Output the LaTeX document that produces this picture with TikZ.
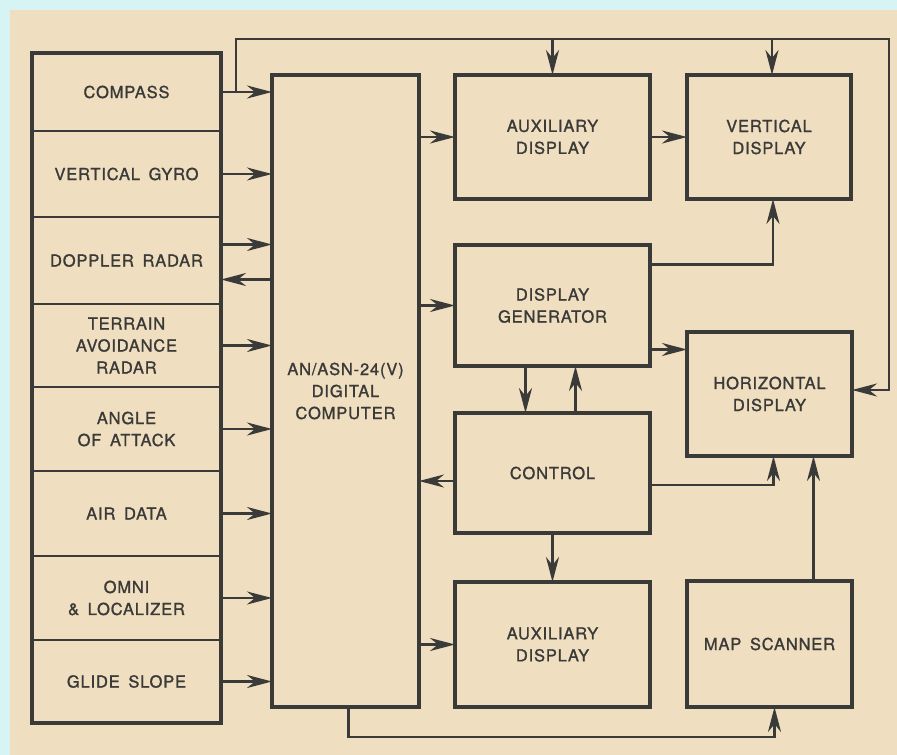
\documentclass[tikz,border=0pt]{standalone}
\usepackage{fontspec}
\setmainfont{TeX Gyre Heros}[LetterSpace=5,WordSpace=1.6,FakeBold=1.2]
\usepackage{tikz}
\usetikzlibrary{arrows.meta,positioning,calc}

\definecolor{ink}{RGB}{58,58,56}
\definecolor{paper}{RGB}{240,222,192}
\definecolor{rim}{RGB}{214,244,244}

\begin{document}
\begin{tikzpicture}[x=1pt,y=-1pt,
	block/.style={draw=ink,line width=4pt,inner sep=0pt,outer sep=0pt,align=center,text=ink,
		font=\fontsize{16.5}{22}\selectfont},
	row/.style={draw=ink,line width=2.6pt,inner sep=0pt,outer sep=0pt,align=center,text=ink,
		minimum width=189pt,font=\fontsize{16.5}{22}\selectfont},
	wire/.style={draw=ink,line width=2.6pt},
	link/.style={wire,-{Stealth[length=25pt,width=13pt,inset=8pt]}}]
		\useasboundingbox (0,0) rectangle (897,755);
		\fill[rim] (0,0) rectangle (897,755);
		\fill[paper] (10,10) rectangle (897,755);

		% sensors
		\node[row,minimum height=78pt] (compass) at (126.5,92) {COMPASS};
		\node[row,minimum height=86pt] (gyro) [below=0pt of compass] {VERTICAL GYRO};
		\node[row,minimum height=87pt] (doppler) [below=0pt of gyro] {DOPPLER RADAR};
		\node[row,minimum height=83pt] (terrain) [below=0pt of doppler] {TERRAIN\\AVOIDANCE\\RADAR};
		\node[row,minimum height=84pt] (angle) [below=0pt of terrain] {ANGLE\\OF ATTACK};
		\node[row,minimum height=85pt] (air) [below=0pt of angle] {AIR DATA};
		\node[row,minimum height=84pt] (omni) [below=0pt of air] {OMNI\\\& LOCALIZER};
		\node[row,minimum height=83pt] (glide) [below=0pt of omni] {GLIDE SLOPE};
		\draw[draw=ink,line width=4pt] (compass.north west) rectangle (glide.south east);

		% computer and displays
		\node[block,minimum width=147pt,minimum height=632pt] (comp) at (345.5,391) {AN/ASN-24(V)\\DIGITAL\\COMPUTER};
		\node[block,minimum width=195pt,minimum height=124pt] (auxtop) at (552.5,137) {AUXILIARY\\DISPLAY};
		\node[block,minimum width=164pt,minimum height=124pt] (vert) [right=37pt of auxtop] {VERTICAL\\DISPLAY};
		\node[block,minimum width=195pt,minimum height=121pt] (dgen) [below=46pt of auxtop] {DISPLAY\\GENERATOR};
		\node[block,minimum width=195pt,minimum height=120pt] (ctrl) [below=47pt of dgen] {CONTROL};
		\node[block,minimum width=195pt,minimum height=125pt] (auxbot) [below=49pt of ctrl] {AUXILIARY\\DISPLAY};
		\node[block,minimum width=165pt,minimum height=124pt] (horiz) at (769.5,394) {HORIZONTAL\\DISPLAY};
		\node[block,minimum width=165pt,minimum height=126pt] (map) at (769.5,644) {MAP SCANNER};

		\coordinate (tap) at ([xshift=15pt]compass.east);
		\coordinate (bus) at (889,39);
		\coordinate (floor) at (0,737);

		% inputs to the computer
		\foreach \s in {compass,gyro,terrain,angle,air,omni,glide}
			\draw[link] (\s.east) -- (\s.east -| comp.west);
		\draw[link] ([yshift=16pt]doppler.east) -- ([yshift=16pt]doppler.east -| comp.west);
		\draw[link] ([yshift=-19pt]doppler.east -| comp.west) -- ([yshift=-19pt]doppler.east);

		% compass bus
		\draw[link] (tap) |- (bus) |- ([yshift=4pt]horiz.east);
		\draw[link] (auxtop.north |- bus) -- (auxtop.north);
		\draw[link] ([xshift=3pt]vert.north |- bus) -- ([xshift=3pt]vert.north);

		% computer outputs
		\draw[link] (comp.east |- auxtop.west) -- (auxtop.west);
		\draw[link] (comp.east |- dgen.west) -- (dgen.west);
		\draw[link] (comp.east |- auxbot.west) -- (auxbot.west);
		\draw[link] ([xshift=3pt]comp.south) -- ([xshift=3pt]comp.south |- floor) -| ([xshift=5pt]map.south);

		\draw[link] (auxtop.east) -- (vert.west);
		\draw[link] ([yshift=41pt]dgen.east) -| ([xshift=4pt]vert.south);
		\draw[link] ([yshift=-44pt]dgen.east) -- ([yshift=-44pt]dgen.east -| horiz.west);
		\draw[link] ([xshift=-27pt]dgen.south) -- ([xshift=-27pt]dgen.south |- ctrl.north);
		\draw[link] ([xshift=23pt]ctrl.north) -- ([xshift=23pt]ctrl.north |- dgen.south);
		\draw[link] ([yshift=-8pt]ctrl.west) -- ([yshift=-8pt]ctrl.west -| comp.east);
		\draw[link] ([yshift=-12pt]ctrl.east) -| ([xshift=4pt]horiz.south);
		\draw[link] (ctrl.south) -- (auxbot.north);
		\draw[link] ([xshift=44pt]map.north) -- ([xshift=44pt]map.north |- horiz.south);
	\end{tikzpicture}
\end{document}
